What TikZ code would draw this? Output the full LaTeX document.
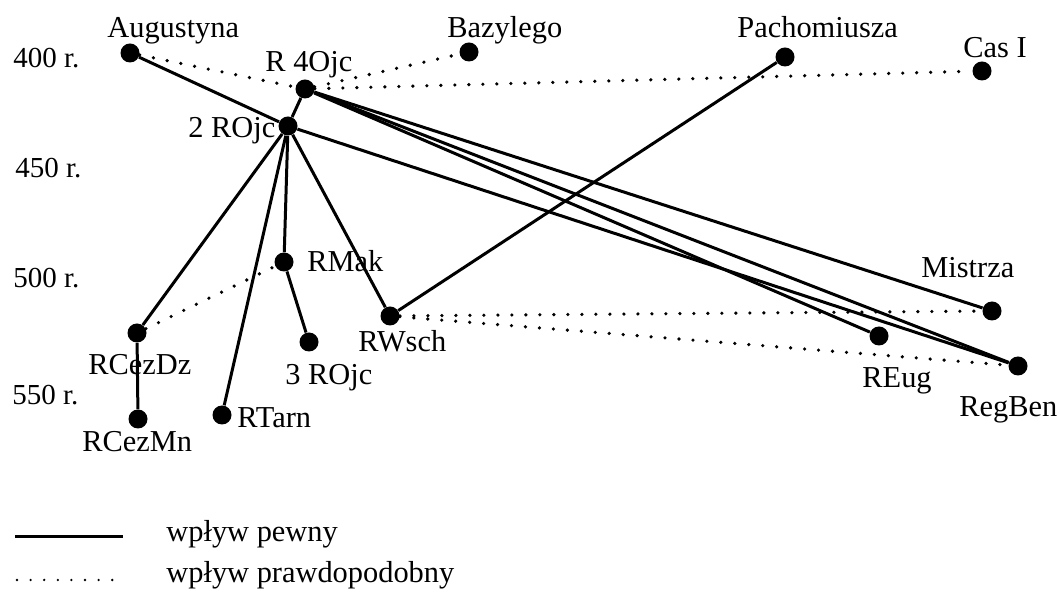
\documentclass[tikz,border=0pt]{standalone}
\usepackage{fontspec}
\setmainfont{Liberation Serif}
\begin{document}
\begin{tikzpicture}[x=0.5pt,y=-0.5pt,
 dot/.style={circle,fill=black,inner sep=0pt,minimum size=9.5pt},
 lbl/.style={anchor=base west,inner sep=0pt,font=\fontsize{15.2}{18}\selectfont},
 yr/.style={anchor=base west,inner sep=0pt,font=\fontsize{14.5}{17}\selectfont},
 sure/.style={line width=1.5pt},
 prob/.style={line width=1.8pt,line cap=round,dash pattern=on 0pt off 7pt},
 probleg/.style={line width=1.3pt,line cap=round,dash pattern=on 0pt off 6.8pt}]
\useasboundingbox (0,0) rectangle (1060,608);
% years
\node[yr] (y400) at (13,68) {400 r.};
\node[yr] (y450) at (15,178) {450 r.};
\node[yr] (y500) at (13,288) {500 r.};
\node[yr] (y550) at (12,405) {550 r.};
% dots
\node[dot] (aug) at (130,53) {};
\node[dot] (baz) at (469,52) {};
\node[dot] (r4) at (305,89) {};
\node[dot] (r2) at (288,126) {};
\node[dot] (pach) at (785,57) {};
\node[dot] (cas) at (982,71) {};
\node[dot] (rmak) at (284,262) {};
\node[dot] (rcezdz) at (137,333) {};
\node[dot] (rcezmn) at (138,419) {};
\node[dot] (rtarn) at (222,415) {};
\node[dot] (r3) at (309,342) {};
\node[dot] (rwsch) at (390,316) {};
\node[dot] (mist) at (992,311) {};
\node[dot] (reug) at (879,336) {};
\node[dot] (regben) at (1018,366) {};
% labels
\node[lbl] (laug) at (107,38) {Augustyna};
\node[lbl] (lbaz) at (447,38) {Bazylego};
\node[lbl] (lr4) at (265,72) {R 4Ojc};
\node[lbl] (lr2) at (188,138) {2 ROjc};
\node[lbl] (lpach) at (737,38) {Pachomiusza};
\node[lbl] (lcas) at (963,58) {Cas I};
\node[lbl] (lrmak) at (307,272) {RMak};
\node[lbl] (lrcezdz) at (88,375) {RCezDz};
\node[lbl] (lr3) at (285,385) {3 ROjc};
\node[lbl] (lrwsch) at (358,352) {RWsch};
\node[lbl] (lrtarn) at (237,428) {RTarn};
\node[lbl] (lrcezmn) at (82,452) {RCezMn};
\node[lbl] (lmist) at (921,278) {Mistrza};
\node[lbl] (lreug) at (862,388) {REug};
\node[lbl] (lregben) at (959,417) {RegBen};
% certain influence
\draw[sure] (aug) -- (r2);
\draw[sure] (r4) -- (r2);
\draw[sure] (r2) -- (rcezdz);
\draw[sure] (r2) -- (rtarn);
\draw[sure] (r2) -- (rmak);
\draw[sure] (r2) -- (rwsch);
\draw[sure] (r2) -- (regben);
\draw[sure] (r4) -- (mist);
\draw[sure] (r4) -- (reug);
\draw[sure] (r4) -- (regben);
\draw[sure] (rmak) -- (r3);
\draw[sure] (rcezdz) -- (rcezmn);
\draw[sure] (pach) -- (rwsch);
% probable influence
\draw[prob] (aug) -- (r4);
\draw[prob] (r4) -- (baz);
\draw[prob] (r4) -- (cas);
\draw[prob] (rcezdz) -- (rmak);
\draw[prob] (rwsch) -- (mist);
\draw[prob] (rwsch) -- (regben);
% legend
\coordinate (l1a) at (15,537);
\coordinate (l1b) at (123,537);
\draw[sure] (l1a) -- (l1b);
\node[lbl] (leg1) at (166,542) {wpływ pewny};
\coordinate (l2a) at (17,580);
\coordinate (l2b) at (113,580);
\draw[probleg] (l2a) -- (l2b);
\node[lbl] (leg2) at (166,583) {wpływ prawdopodobny};
\end{tikzpicture}
\end{document}
